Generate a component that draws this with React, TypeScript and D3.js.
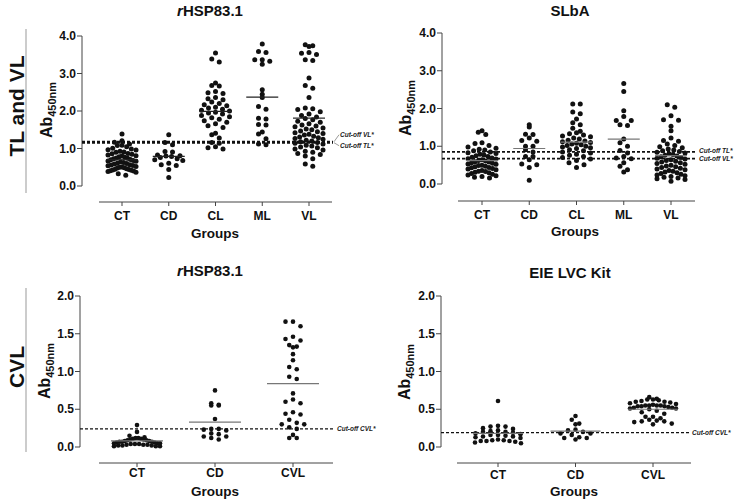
import React from "react";
import * as d3 from "d3";

// ---------- categories & ticks ----------
const TL_GROUPS = ["CT", "CD", "CL", "ML", "VL"];
const CVL_GROUPS = ["CT", "CD", "CVL"];
const TICKS_TL = [0, 1, 2, 3, 4];
const TICK_LABELS_TL = ["0.0", "1.0", "2.0", "3.0", "4.0"];
const TICKS_CVL = [0, 0.5, 1, 1.5, 2];
const TICK_LABELS_CVL = ["0.0", "0.5", "1.0", "1.5", "2.0"];

// ---------- panel 1: rHSP83.1 (TL and VL) ----------
const P1_CT = [1.39, 1.21, 1.17, 1.12, 1.09, 1.08, 1.05, 1.01, 0.99, 0.97, 0.96, 0.93, 0.91, 0.9, 0.87, 0.86, 0.85, 0.83, 0.81, 0.8, 0.78, 0.77, 0.75, 0.74, 0.73, 0.71, 0.7, 0.68, 0.67, 0.66, 0.64, 0.63, 0.61, 0.6, 0.59, 0.57, 0.56, 0.55, 0.54, 0.52, 0.51, 0.5, 0.49, 0.48, 0.46, 0.45, 0.44, 0.43, 0.42, 0.41, 0.4, 0.39, 0.37, 0.33, 0.29];
const P1_CD = [1.37, 1.16, 1.1, 0.92, 0.91, 0.83, 0.81, 0.8, 0.79, 0.76, 0.73, 0.7, 0.68, 0.61, 0.57, 0.55, 0.44, 0.23];
const P1_CL = [3.55, 3.39, 3.31, 2.75, 2.68, 2.67, 2.52, 2.49, 2.47, 2.36, 2.33, 2.3, 2.24, 2.2, 2.17, 2.14, 2.1, 2.08, 2.05, 2.02, 2.0, 1.97, 1.95, 1.92, 1.88, 1.85, 1.82, 1.78, 1.74, 1.7, 1.66, 1.61, 1.56, 1.41, 1.37, 1.28, 1.16, 1.14, 1.05, 1.02, 0.99];
const P1_ML = [3.79, 3.59, 3.56, 3.37, 3.37, 3.33, 3.25, 2.57, 2.45, 2.36, 2.12, 2.05, 1.81, 1.79, 1.64, 1.63, 1.44, 1.39, 1.26, 1.12, 1.1];
const P1_VL = [3.77, 3.74, 3.72, 3.56, 3.54, 3.51, 3.37, 3.35, 2.88, 2.68, 2.61, 2.36, 2.08, 2.06, 2.04, 1.98, 1.92, 1.88, 1.84, 1.8, 1.77, 1.73, 1.7, 1.66, 1.63, 1.6, 1.58, 1.55, 1.52, 1.5, 1.47, 1.45, 1.42, 1.4, 1.38, 1.36, 1.33, 1.31, 1.29, 1.27, 1.25, 1.22, 1.2, 1.18, 1.16, 1.14, 1.12, 1.09, 1.07, 1.04, 1.02, 0.99, 0.96, 0.93, 0.9, 0.87, 0.84, 0.8, 0.73, 0.59, 0.53];
const P1_MEANS = [0.7, 0.79, 1.99, 2.37, 1.81];
const P1_CUTOFFS = [1.18, 1.155];
const P1_CUTOFF_LABELS = ["Cut-off VL*", "Cut-off TL*"];

// ---------- panel 2: SLbA (TL and VL) ----------
const P2_CT = [1.41, 1.37, 1.31, 1.09, 1.07, 1.02, 0.98, 0.95, 0.92, 0.9, 0.88, 0.85, 0.83, 0.81, 0.79, 0.77, 0.75, 0.73, 0.71, 0.69, 0.67, 0.66, 0.64, 0.62, 0.61, 0.59, 0.58, 0.56, 0.55, 0.53, 0.52, 0.5, 0.49, 0.47, 0.46, 0.44, 0.43, 0.41, 0.4, 0.38, 0.36, 0.34, 0.33, 0.31, 0.3, 0.28, 0.26, 0.24, 0.22, 0.2, 0.18, 0.16];
const P2_CD = [1.57, 1.51, 1.32, 1.31, 1.22, 1.15, 1.13, 1.0, 1.0, 0.91, 0.85, 0.73, 0.73, 0.64, 0.53, 0.51, 0.44, 0.1];
const P2_CL = [2.12, 2.12, 1.91, 1.86, 1.72, 1.62, 1.57, 1.48, 1.4, 1.36, 1.33, 1.3, 1.27, 1.25, 1.22, 1.19, 1.16, 1.14, 1.12, 1.1, 1.08, 1.06, 1.04, 1.02, 1.0, 0.98, 0.96, 0.94, 0.91, 0.88, 0.85, 0.82, 0.79, 0.76, 0.73, 0.7, 0.66, 0.62, 0.56, 0.51, 0.44];
const P2_ML = [2.66, 2.45, 1.94, 1.79, 1.68, 1.68, 1.57, 1.55, 1.19, 1.09, 1.0, 0.89, 0.82, 0.73, 0.69, 0.67, 0.56, 0.47, 0.38, 0.32];
const P2_VL = [2.1, 2.03, 1.81, 1.7, 1.69, 1.53, 1.41, 1.22, 1.15, 1.13, 1.06, 1.02, 0.99, 0.96, 0.93, 0.9, 0.88, 0.86, 0.84, 0.82, 0.8, 0.78, 0.76, 0.74, 0.72, 0.7, 0.68, 0.66, 0.64, 0.62, 0.6, 0.58, 0.56, 0.54, 0.52, 0.5, 0.48, 0.46, 0.44, 0.42, 0.4, 0.38, 0.36, 0.34, 0.32, 0.3, 0.28, 0.26, 0.24, 0.22, 0.2, 0.18, 0.16, 0.14, 0.12, 0.07];
const P2_MEANS = [0.62, 0.94, 1.11, 1.19, 0.75];
const P2_CUTOFFS = [0.85, 0.67];
const P2_CUTOFF_LABELS = ["Cut-off TL*", "Cut-off VL*"];

// ---------- panel 3: rHSP83.1 (CVL) ----------
const P3_CT = [0.29, 0.2, 0.15, 0.13, 0.12, 0.12, 0.11, 0.11, 0.1, 0.1, 0.09, 0.09, 0.08, 0.08, 0.07, 0.07, 0.07, 0.06, 0.06, 0.05, 0.05, 0.05, 0.04, 0.04, 0.04, 0.03, 0.03, 0.03, 0.02, 0.02, 0.02, 0.01, 0.01, 0.01];
const P3_CD = [0.75, 0.58, 0.56, 0.55, 0.55, 0.37, 0.24, 0.24, 0.23, 0.22, 0.18, 0.17, 0.14, 0.14, 0.12, 0.1];
const P3_CVL = [1.66, 1.66, 1.6, 1.46, 1.43, 1.41, 1.35, 1.33, 1.32, 1.23, 1.15, 1.06, 1.03, 0.93, 0.9, 0.71, 0.63, 0.6, 0.58, 0.46, 0.44, 0.43, 0.36, 0.32, 0.3, 0.3, 0.26, 0.24, 0.16, 0.12, 0.12];
const P3_MEANS = [0.08, 0.33, 0.84];
const P3_CUTOFFS = [0.24];
const P3_CUTOFF_LABELS = ["Cut-off CVL*"];

// ---------- panel 4: EIE LVC Kit (CVL) ----------
const P4_CT = [0.61, 0.28, 0.27, 0.27, 0.25, 0.24, 0.22, 0.21, 0.2, 0.2, 0.19, 0.18, 0.17, 0.16, 0.16, 0.15, 0.14, 0.14, 0.13, 0.12, 0.1, 0.09, 0.09, 0.08, 0.08, 0.08, 0.07, 0.06, 0.05];
const P4_CD = [0.41, 0.36, 0.31, 0.3, 0.23, 0.22, 0.2, 0.18, 0.18, 0.16, 0.13, 0.12, 0.12, 0.1];
const P4_CVL = [0.66, 0.64, 0.63, 0.63, 0.62, 0.61, 0.6, 0.6, 0.59, 0.58, 0.57, 0.56, 0.55, 0.55, 0.55, 0.55, 0.54, 0.54, 0.54, 0.53, 0.52, 0.52, 0.51, 0.51, 0.5, 0.48, 0.46, 0.44, 0.4, 0.4, 0.38, 0.36, 0.35, 0.34, 0.34, 0.33, 0.31, 0.3];
const P4_MEANS = [0.18, 0.21, 0.5];
const P4_CUTOFFS = [0.19];
const P4_CUTOFF_LABELS = ["Cut-off CVL*"];

const FONT = "'Liberation Sans', Arial, Helvetica, sans-serif";

// GraphPad-like scatter: values are grouped into horizontal rows (bins) and
// spread symmetrically around the category centre; each keeps its own y.
function swarm(
  vals: number[],
  y: (v: number) => number,
  cx: number,
  r: number,
  maxW: number,
  sMax: number,
  binF: number
) {
  const binH = 2 * r * binF;
  const yb = y(0);
  const bins = d3.group(vals, (v) => Math.round((yb - y(v)) / binH));
  const out: { x: number; y: number }[] = [];
  for (const [, arr] of bins) {
    const sorted = [...arr].sort((a, b) => b - a);
    const n = sorted.length;
    const s = n > 1 ? Math.min(sMax, maxW / (n - 1)) : 0;
    const offs = d3.range(n).map((k) => (k - (n - 1) / 2) * s);
    offs.sort((a, b) => Math.abs(a) - Math.abs(b) || a - b);
    sorted.forEach((v, k) => out.push({ x: cx + offs[k], y: y(v) }));
  }
  return out;
}

type PanelCfg = {
  title: React.ReactNode;
  titleX: number;
  titleY: number;
  groups: string[];
  series: number[][];
  means: number[];
  cutoffs: number[];
  cutoffLabels: string[];
  cutoffLabelDy: number[];
  ticks: number[];
  tickLabels: string[];
  yMax: number;
  axX: number;
  yTop: number;
  yBot: number;
  xAxisY: number;
  xAxisX0: number;
  xAxisX1: number;
  catX0: number;
  catX1: number;
  catLabelY: number;
  groupsX: number;
  groupsY: number;
  yTitleX: number;
  yTitleY: number;
  cutEnd: number;
  cutLabelX: number;
  r: number;
  swarmW: number;
  swarmS: number;
  binF: number;
  meanHalf: number;
  meanColor: string;
  cutDash: string;
  cutWidth: number;
  bracket?: boolean;
};

function Panel({ c }: { c: PanelCfg }) {
  const y = d3.scaleLinear().domain([0, c.yMax]).range([c.yBot, c.yTop]);
  const x = d3.scalePoint<string>().domain(c.groups).range([c.catX0, c.catX1]);
  return (
    <g fontFamily={FONT}>
      <text x={c.titleX} y={c.titleY} textAnchor="middle" fontSize={15} fontWeight="bold" fill="#111">
        {c.title}
      </text>
      {/* y axis */}
      <line x1={c.axX} x2={c.axX} y1={c.yTop} y2={c.yBot} stroke="#444" strokeWidth={1} />
      {c.ticks.map((t, i) => (
        <g key={i}>
          <line x1={c.axX - 5} x2={c.axX} y1={y(t)} y2={y(t)} stroke="#444" strokeWidth={1} />
          <text x={c.axX - 6} y={y(t)} dy="0.35em" textAnchor="end" fontSize={12} fontWeight="bold" fill="#111">
            {c.tickLabels[i]}
          </text>
        </g>
      ))}
      <text
        transform={`translate(${c.yTitleX},${c.yTitleY}) rotate(-90)`}
        textAnchor="middle"
        fontWeight="bold"
        fill="#111"
        fontSize={16}
      >
        Ab<tspan fontSize={11} dy={4}>450nm</tspan>
      </text>
      {/* x axis */}
      <line x1={c.xAxisX0} x2={c.xAxisX1} y1={c.xAxisY} y2={c.xAxisY} stroke="#444" strokeWidth={1} />
      {c.groups.map((g) => (
        <g key={g}>
          <line x1={x(g)} x2={x(g)} y1={c.xAxisY} y2={c.xAxisY + 4} stroke="#444" strokeWidth={1} />
          <text x={x(g)} y={c.catLabelY} textAnchor="middle" fontSize={12} fontWeight="bold" fill="#111">
            {g}
          </text>
        </g>
      ))}
      <text x={c.groupsX} y={c.groupsY} textAnchor="middle" fontSize={13.5} fontWeight="bold" fill="#111">
        Groups
      </text>
      {/* cut-off lines */}
      {c.cutoffs.map((v, i) => (
        <g key={i}>
          <line
            x1={c.axX}
            x2={c.cutEnd}
            y1={y(v)}
            y2={y(v)}
            stroke="#111"
            strokeWidth={c.cutWidth}
            strokeDasharray={c.cutDash}
          />
          <text
            x={c.cutLabelX}
            y={y(v) + c.cutoffLabelDy[i]}
            dy="0.35em"
            fontSize={6.5}
            fontStyle="italic"
            fontWeight="bold"
            fill="#222"
          >
            {c.cutoffLabels[i]}
          </text>
          {c.bracket && (
            <line
              x1={c.cutEnd + 1}
              y1={y(v)}
              x2={c.cutLabelX - 1}
              y2={y(v) + c.cutoffLabelDy[i]}
              stroke="#555"
              strokeWidth={0.6}
            />
          )}
        </g>
      ))}
      {/* dots */}
      {c.series.map((vals, gi) => {
        const pts = swarm(vals, y, x(c.groups[gi]) as number, c.r, c.swarmW, c.swarmS, c.binF);
        return (
          <g key={gi}>
            {pts.map((p, k) => (
              <circle key={k} cx={p.x} cy={p.y} r={c.r} fill="#111" />
            ))}
          </g>
        );
      })}
      {/* means */}
      {c.means.map((m, gi) => (
        <line
          key={gi}
          x1={(x(c.groups[gi]) as number) - c.meanHalf}
          x2={(x(c.groups[gi]) as number) + c.meanHalf}
          y1={y(m)}
          y2={y(m)}
          stroke={c.meanColor}
          strokeWidth={1.2}
        />
      ))}
    </g>
  );
}

const rHSP = (
  <>
    <tspan fontStyle="italic">r</tspan>HSP83.1
  </>
);

const PANELS: PanelCfg[] = [
  {
    title: rHSP, titleX: 210, titleY: 16, groups: TL_GROUPS,
    series: [P1_CT, P1_CD, P1_CL, P1_ML, P1_VL], means: P1_MEANS,
    cutoffs: P1_CUTOFFS, cutoffLabels: P1_CUTOFF_LABELS, cutoffLabelDy: [-7, 3],
    ticks: TICKS_TL, tickLabels: TICK_LABELS_TL, yMax: 4,
    axX: 82, yTop: 36, yBot: 186, xAxisY: 202, xAxisX0: 99, xAxisX1: 332,
    catX0: 122, catX1: 309, catLabelY: 220, groupsX: 215, groupsY: 238,
    yTitleX: 52, yTitleY: 110, cutEnd: 333, cutLabelX: 340, r: 2.5, swarmW: 28, swarmS: 7.5, binF: 1.1,
    meanHalf: 16, meanColor: "#222", cutDash: "3 2", cutWidth: 2.2, bracket: true,
  },
  {
    title: "SLbA", titleX: 570, titleY: 16, groups: TL_GROUPS,
    series: [P2_CT, P2_CD, P2_CL, P2_ML, P2_VL], means: P2_MEANS,
    cutoffs: P2_CUTOFFS, cutoffLabels: P2_CUTOFF_LABELS, cutoffLabelDy: [-1, 0],
    ticks: TICKS_TL, tickLabels: TICK_LABELS_TL, yMax: 4,
    axX: 442, yTop: 33, yBot: 184, xAxisY: 201, xAxisX0: 458, xAxisX1: 695,
    catX0: 482, catX1: 671, catLabelY: 219, groupsX: 575, groupsY: 236,
    yTitleX: 411, yTitleY: 108, cutEnd: 697, cutLabelX: 699, r: 2.5, swarmW: 28, swarmS: 7.5, binF: 1.1,
    meanHalf: 16, meanColor: "#777", cutDash: "3 2", cutWidth: 1.8,
  },
  {
    title: rHSP, titleX: 210, titleY: 276, groups: CVL_GROUPS,
    series: [P3_CT, P3_CD, P3_CVL], means: P3_MEANS,
    cutoffs: P3_CUTOFFS, cutoffLabels: P3_CUTOFF_LABELS, cutoffLabelDy: [0],
    ticks: TICKS_CVL, tickLabels: TICK_LABELS_CVL, yMax: 2,
    axX: 80, yTop: 296, yBot: 447, xAxisY: 463, xAxisX0: 99, xAxisX1: 333,
    catX0: 137, catX1: 293, catLabelY: 477, groupsX: 215, groupsY: 496,
    yTitleX: 50, yTitleY: 371, cutEnd: 335, cutLabelX: 337, r: 2.3, swarmW: 46, swarmS: 7.5, binF: 1.4,
    meanHalf: 26, meanColor: "#777", cutDash: "3 2", cutWidth: 1.4,
  },
  {
    title: "EIE LVC Kit", titleX: 570, titleY: 278, groups: CVL_GROUPS,
    series: [P4_CT, P4_CD, P4_CVL], means: P4_MEANS,
    cutoffs: P4_CUTOFFS, cutoffLabels: P4_CUTOFF_LABELS, cutoffLabelDy: [0],
    ticks: TICKS_CVL, tickLabels: TICK_LABELS_CVL, yMax: 2,
    axX: 441, yTop: 296, yBot: 447, xAxisY: 463, xAxisX0: 457, xAxisX1: 691,
    catX0: 498, catX1: 653, catLabelY: 479, groupsX: 574, groupsY: 496,
    yTitleX: 410, yTitleY: 372, cutEnd: 690, cutLabelX: 692, r: 2.3, swarmW: 46, swarmS: 7.5, binF: 1.1,
    meanHalf: 25, meanColor: "#777", cutDash: "3 2", cutWidth: 1.4,
  },
];

export default function App() {
  return (
    <svg
      width={740}
      height={504}
      viewBox="0 0 740 504"
      style={{ position: "absolute", left: 0, top: 0, background: "#fff" }}
    >
      <rect width={740} height={504} fill="#fff" />
      {/* row labels */}
      <g fontFamily={FONT} fontWeight="bold" fill="#111">
        <line x1={26} x2={26} y1={29} y2={193} stroke="#999" strokeWidth={1} />
        <text transform="translate(17,106) rotate(-90)" textAnchor="middle" dy="0.35em" fontSize={21}>
          TL and VL
        </text>
        <line x1={26} x2={26} y1={288} y2={452} stroke="#999" strokeWidth={1} />
        <text transform="translate(17,367) rotate(-90)" textAnchor="middle" dy="0.35em" fontSize={21}>
          CVL
        </text>
      </g>
      {PANELS.map((c, i) => (
        <Panel key={i} c={c} />
      ))}
    </svg>
  );
}
